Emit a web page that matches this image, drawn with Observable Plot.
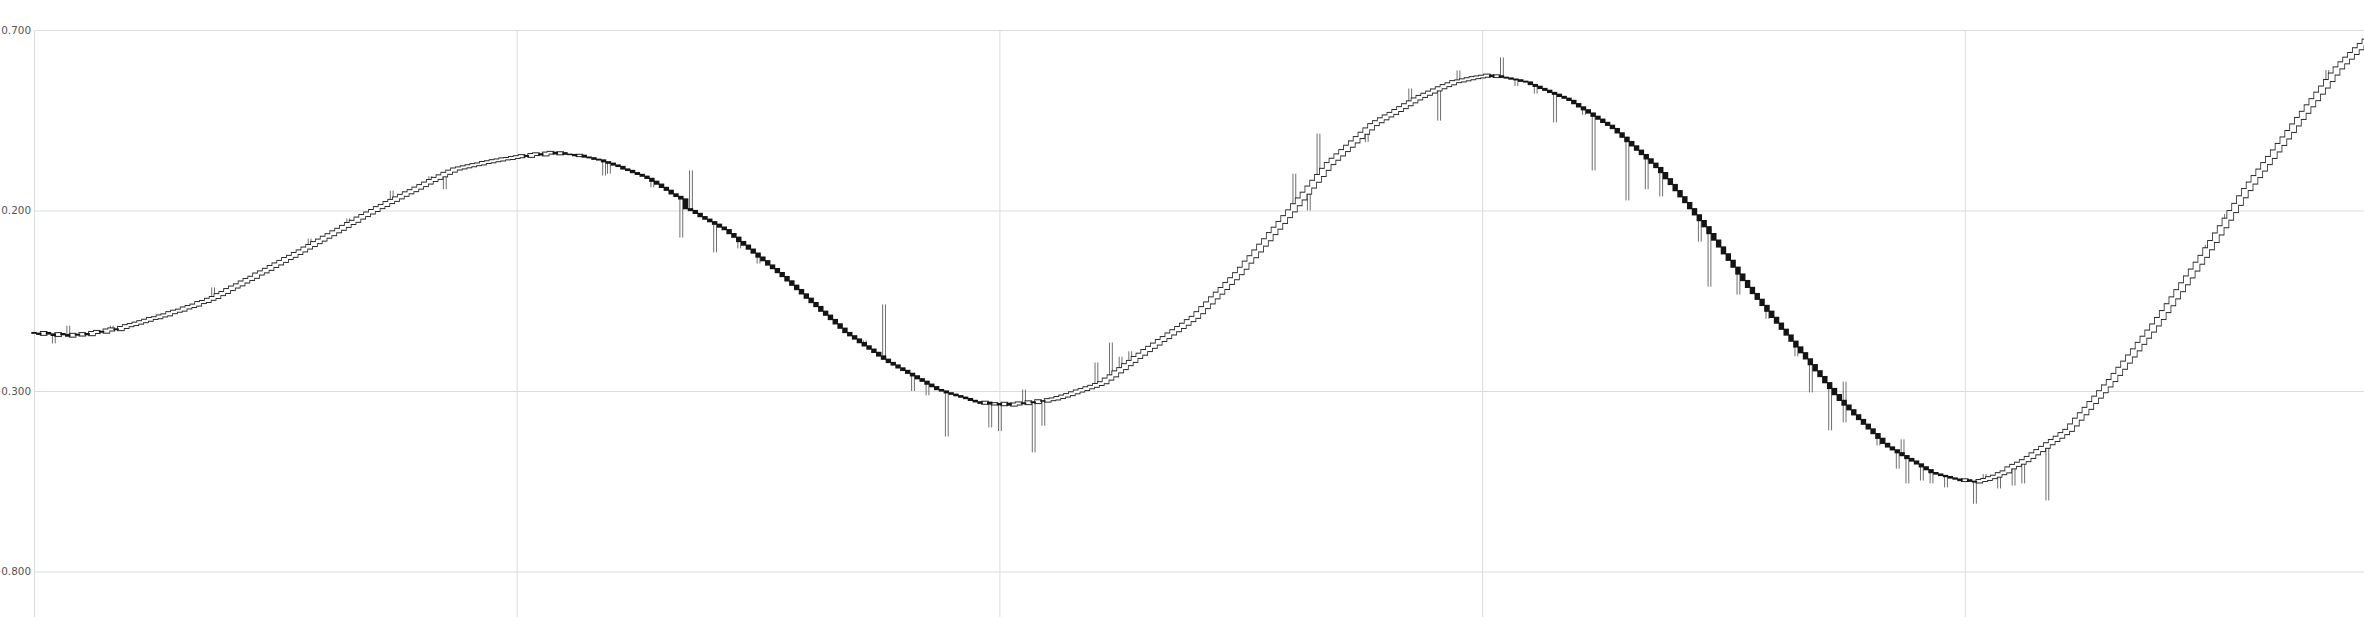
<!DOCTYPE html>
<html>
<head>
<meta charset="utf-8">
<script src="https://cdn.jsdelivr.net/npm/d3@7"></script>
<script src="https://cdn.jsdelivr.net/npm/@observablehq/plot@0.6"></script>
<style>
  html, body { margin: 0; padding: 0; background: #fff; overflow: hidden; }
  svg text { fill: #555; }
</style>
</head>
<body>
<div id="chart"></div>
<script>
const firstOpen = -0.138;
const closes = [
-0.140,-0.143,-0.138,-0.142,-0.146,-0.141,-0.144,-0.148,-0.143,-0.145,
-0.141,-0.144,-0.138,-0.135,-0.137,-0.131,-0.128,-0.130,-0.124,-0.119,
-0.116,-0.112,-0.108,-0.104,-0.099,-0.097,-0.092,-0.089,-0.083,-0.079,
-0.076,-0.070,-0.066,-0.062,-0.055,-0.052,-0.046,-0.041,-0.033,-0.027,
-0.019,-0.012,-0.006,0.002,0.009,0.015,0.024,0.030,0.037,0.045,
0.052,0.059,0.067,0.073,0.081,0.088,0.096,0.103,0.111,0.118,
0.126,0.133,0.141,0.148,0.156,0.164,0.170,0.179,0.186,0.193,
0.200,0.208,0.214,0.222,0.228,0.235,0.242,0.249,0.255,0.262,
0.269,0.276,0.283,0.289,0.296,0.303,0.309,0.315,0.318,0.321,
0.324,0.327,0.329,0.333,0.335,0.338,0.340,0.343,0.344,0.347,
0.349,0.352,0.350,0.355,0.357,0.354,0.359,0.361,0.357,0.360,
0.356,0.355,0.352,0.353,0.348,0.346,0.342,0.340,0.335,0.331,
0.326,0.322,0.315,0.311,0.305,0.300,0.295,0.289,0.281,0.273,
0.264,0.256,0.246,0.239,0.232,0.205,0.200,0.192,0.183,0.176,
0.169,0.162,0.154,0.147,0.136,0.126,0.114,0.104,0.093,0.082,
0.071,0.061,0.049,0.039,0.028,0.017,0.005,-0.007,-0.019,-0.031,
-0.043,-0.055,-0.066,-0.079,-0.090,-0.102,-0.114,-0.126,-0.138,-0.147,
-0.156,-0.166,-0.175,-0.184,-0.193,-0.203,-0.212,-0.221,-0.228,-0.236,
-0.243,-0.251,-0.258,-0.266,-0.273,-0.281,-0.288,-0.296,-0.300,-0.305,
-0.309,-0.313,-0.317,-0.321,-0.326,-0.330,-0.334,-0.331,-0.336,-0.335,
-0.338,-0.334,-0.339,-0.336,-0.333,-0.335,-0.330,-0.332,-0.327,-0.328,
-0.324,-0.322,-0.318,-0.314,-0.310,-0.305,-0.300,-0.296,-0.291,-0.287,
-0.282,-0.277,-0.267,-0.258,-0.247,-0.238,-0.227,-0.218,-0.207,-0.198,
-0.188,-0.179,-0.170,-0.160,-0.152,-0.142,-0.133,-0.124,-0.115,-0.105,
-0.096,-0.083,-0.069,-0.056,-0.042,-0.029,-0.016,-0.002,0.011,0.025,
0.040,0.057,0.072,0.088,0.104,0.119,0.136,0.151,0.167,0.183,
0.199,0.216,0.232,0.248,0.265,0.281,0.297,0.314,0.330,0.342,
0.354,0.366,0.378,0.390,0.402,0.414,0.426,0.438,0.446,0.454,
0.462,0.469,0.477,0.485,0.493,0.501,0.509,0.516,0.522,0.528,
0.534,0.540,0.546,0.551,0.557,0.559,0.562,0.565,0.568,0.570,
0.572,0.575,0.571,0.573,0.569,0.567,0.564,0.562,0.558,0.556,
0.549,0.544,0.538,0.533,0.527,0.522,0.516,0.511,0.505,0.496,
0.487,0.479,0.470,0.461,0.453,0.444,0.436,0.427,0.415,0.403,
0.391,0.379,0.367,0.355,0.343,0.331,0.319,0.305,0.288,0.272,
0.255,0.238,0.222,0.205,0.188,0.172,0.155,0.136,0.118,0.099,
0.080,0.062,0.043,0.024,0.006,-0.013,-0.030,-0.046,-0.063,-0.079,
-0.096,-0.112,-0.129,-0.145,-0.162,-0.178,-0.194,-0.211,-0.227,-0.244,
-0.260,-0.277,-0.293,-0.310,-0.326,-0.339,-0.352,-0.366,-0.379,-0.392,
-0.405,-0.418,-0.431,-0.445,-0.455,-0.463,-0.471,-0.479,-0.487,-0.494,
-0.502,-0.510,-0.518,-0.526,-0.530,-0.534,-0.537,-0.541,-0.544,-0.548,
-0.546,-0.550,-0.552,-0.548,-0.545,-0.540,-0.536,-0.529,-0.524,-0.513,
-0.506,-0.500,-0.493,-0.484,-0.474,-0.465,-0.456,-0.446,-0.437,-0.428,
-0.418,-0.409,-0.394,-0.378,-0.363,-0.348,-0.332,-0.317,-0.302,-0.286,
-0.271,-0.254,-0.237,-0.220,-0.203,-0.186,-0.168,-0.151,-0.134,-0.117,
-0.099,-0.080,-0.061,-0.042,-0.022,-0.003,0.016,0.035,0.054,0.073,
0.094,0.114,0.135,0.155,0.176,0.197,0.217,0.238,0.258,0.276,
0.294,0.312,0.330,0.347,0.365,0.383,0.401,0.419,0.437,0.455,
0.472,0.490,0.507,0.525,0.542,0.560,0.578,0.595,0.609,0.622,
0.635,0.648,0.660,0.672
];

// wick extremes (candle index, high, low)
const spikeIndex = [4,7,16,37,57,65,74,82,85,118,119,128,134,136,141,146,150,172,176,182,185,189,198,200,205,207,209,220,223,225,227,261,264,266,276,285,291,295,304,307,311,315,321,323,330,334,337,345,347,353,359,365,368,372,375,382,386,387,388,391,393,396,402,404,407,410,412,417,450,454,475];
const spikeHigh  = [null,-0.119,-0.119,-0.013,0.122,0.178,0.255,0.295,null,null,null,null,null,0.311,null,null,null,-0.160,-0.060,null,null,null,null,null,-0.296,null,null,-0.221,-0.166,-0.205,-0.190,0.302,null,0.413,null,0.538,null,0.588,0.624,null,null,null,null,null,null,null,null,null,null,null,null,null,null,null,-0.274,null,null,-0.434,null,null,null,null,null,-0.530,null,null,null,null,0.105,0.190,0.589];
const spikeLow   = [-0.168,null,null,null,null,null,null,null,0.259,0.297,0.302,0.264,0.125,null,0.084,0.095,0.053,null,null,-0.300,-0.312,-0.426,-0.401,-0.411,null,-0.470,-0.396,null,null,null,null,null,0.200,null,0.390,null,0.449,null,null,0.545,0.524,0.444,0.465,0.311,0.228,0.259,0.239,0.114,-0.011,-0.033,-0.100,-0.204,-0.304,-0.409,-0.387,-0.451,-0.515,null,-0.556,-0.548,-0.556,-0.567,-0.612,null,-0.570,-0.562,-0.556,-0.603,null,null,null];

const yTicks = [0.7, 0.2, -0.3, -0.8];
const xGrid = [0, 100, 200, 300, 400];

const candles = closes.map((c, i) => {
  const open = i === 0 ? firstOpen : closes[i - 1];
  return {i, open, close: c, high: Math.max(open, c), low: Math.min(open, c), up: c >= open};
});
spikeIndex.forEach((idx, k) => {
  const d = candles[idx];
  if (spikeHigh[k] != null) d.high = Math.max(d.high, spikeHigh[k]);
  if (spikeLow[k] != null) d.low = Math.min(d.low, spikeLow[k]);
});
const wicks = spikeIndex.map(idx => candles[idx]);
const rising = candles.filter(d => d.up);
const falling = candles.filter(d => !d.up);

const ext = 0.5; // vertical padding of hollow bodies (px)
const wide = {x1: d => d.i - 0.62, x2: d => d.i + 0.62, y1: "open", y2: "close"};
const body = {x1: d => d.i - 0.5, x2: d => d.i + 0.5, y1: "open", y2: "close"};

const chart = Plot.plot({
  width: 2364,
  height: 617,
  marginTop: 30,
  marginBottom: 0,
  marginLeft: 34,
  marginRight: 0,
  style: {fontFamily: "DejaVu Sans, Verdana, sans-serif", fontSize: "10px", background: "#fff", overflow: "hidden"},
  x: {domain: [0, 482.7], axis: null},
  y: {domain: [-0.926, 0.7], axis: null},
  marks: [
    Plot.ruleY(yTicks, {stroke: "#dcdcdc", strokeWidth: 1}),
    Plot.ruleX(xGrid, {stroke: "#dcdcdc", strokeWidth: 1}),
    Plot.axisY(yTicks, {tickSize: 0, tickPadding: 3.5, tickFormat: d3.format(".3f"), fontSize: 10.4}),
    Plot.ruleX(wicks, {x: "i", y1: "low", y2: "high", stroke: "#6e6e6e", strokeWidth: 1, dx: -1.4}),
    Plot.ruleX(wicks, {x: "i", y1: "low", y2: "high", stroke: "#6e6e6e", strokeWidth: 1, dx: 1.4}),
    // outline of rising (hollow) candles
    Plot.rect(rising, {
      ...wide,
      fill: "#262626",
      insetLeft: -0.8, insetRight: -0.8,
      insetTop: -(ext + 1), insetBottom: -(ext + 1)
    }),
    // hollow interior of rising candles
    Plot.rect(rising, {
      ...wide,
      fill: "#ffffff",
      insetTop: -ext, insetBottom: -ext
    }),
    // filled falling candles
    Plot.rect(falling, {
      ...body,
      fill: "#141414",
      insetLeft: -0.3, insetRight: -0.3,
      insetTop: -0.6, insetBottom: -0.6
    })
  ]
});
document.getElementById("chart").appendChild(chart);
</script>
</body>
</html>
